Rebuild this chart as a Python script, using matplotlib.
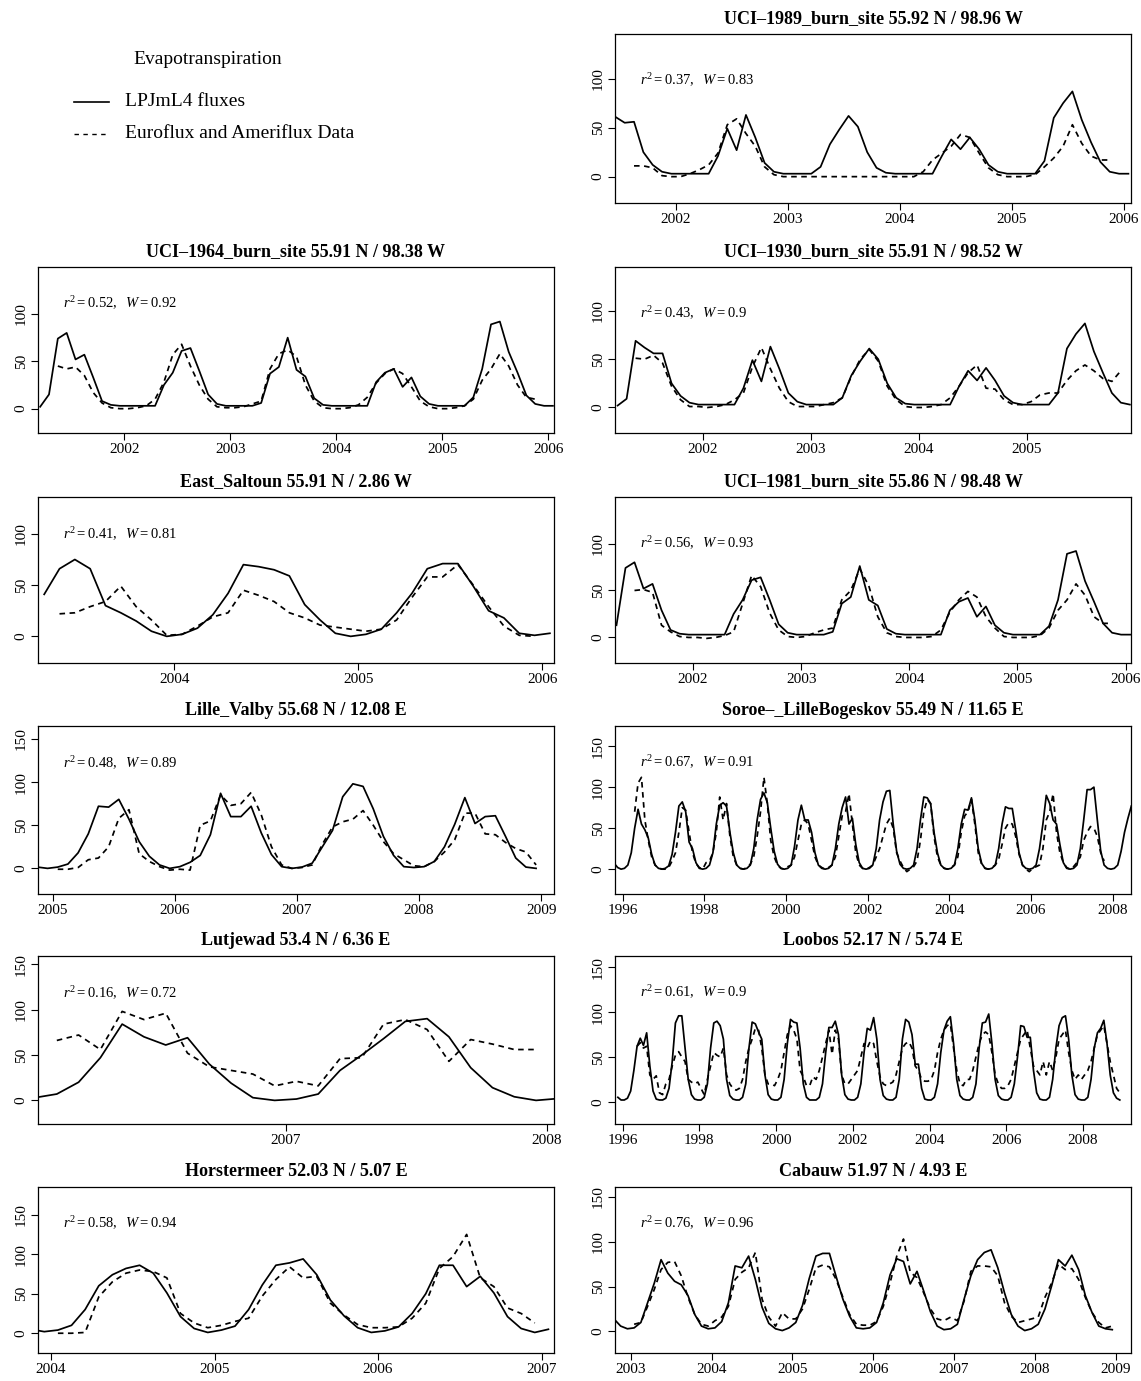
import numpy as np
import matplotlib
matplotlib.use("Agg")
import matplotlib.pyplot as plt

plt.rcParams['font.family'] = ['Liberation Serif', 'DejaVu Serif']
plt.rcParams['mathtext.fontset'] = 'custom'
plt.rcParams['mathtext.rm'] = 'Liberation Serif'
plt.rcParams['mathtext.it'] = 'Liberation Serif:italic'

# ------------------------------------------------------------------
# Monthly evapotranspiration: LPJmL4 model vs. flux tower observations
# Each series: (first year, first month) and monthly values
# ------------------------------------------------------------------
legend_title = "Evapotranspiration"
legend_model = "LPJmL4 fluxes"
legend_obs = "Euroflux and Ameriflux Data"

# UCI-1989 burn site
uci1989_title = "UCI\u20131989_burn_site 55.92 N / 98.96 W"
uci1989_stats = (0.37, 0.83)
uci1989_model_start = (2001, 6)
uci1989_model = [61, 55, 56, 25, 12, 5, 3,
                 3, 3, 3, 3, 21, 49, 27, 63, 40, 14, 5, 3,
                 3, 3, 3, 10, 33, 48, 62, 51, 25, 9, 4, 3,
                 3, 3, 3, 3, 21, 38, 28, 40, 28, 12, 5, 3,
                 3, 3, 3, 16, 60, 75, 87, 58, 35, 15, 5, 3,
                 3]
uci1989_obs_start = (2001, 8)
uci1989_obs = [11, 11, 9, 1, 0,
               0, 3, 7, 12, 24, 53, 59, 44, 31, 10, 2, 0,
               0, 0, 0, 0, 0, 0, 0, 0, 0, 0, 0, 0,
               0, 0, 5, 17, 24, 31, 43, 40, 24, 9, 2, 0,
               0, 0, 2, 10, 19, 31, 53, 34, 21, 17, 17]
uci1989_xticks = [2002, 2003, 2004, 2005, 2006]

# UCI-1964 burn site
uci1964_title = "UCI\u20131964_burn_site 55.91 N / 98.38 W"
uci1964_stats = (0.52, 0.92)
uci1964_model_start = (2001, 3)
uci1964_model = [2, 15, 74, 80, 52, 57, 33, 8, 4, 3,
                 3, 3, 3, 3, 25, 38, 61, 64, 40, 15, 5, 3,
                 3, 3, 3, 6, 37, 44, 75, 41, 34, 11, 4, 3,
                 3, 3, 3, 3, 28, 38, 42, 23, 33, 13, 5, 3,
                 3, 3, 3, 12, 42, 89, 92, 60, 38, 14, 5, 3,
                 3]
uci1964_obs_start = (2001, 5)
uci1964_obs = [45, 42, 44, 35, 17, 6, 1, 0,
               0, 1, 3, 10, 28, 57, 68, 45, 25, 10, 2, 1,
               1, 2, 5, 8, 42, 58, 62, 55, 25, 8, 1, 0,
               0, 1, 4, 12, 27, 37, 42, 37, 23, 8, 2, 0,
               0, 1, 3, 10, 30, 42, 58, 45, 25, 12, 10]
uci1964_xticks = [2002, 2003, 2004, 2005, 2006]

# UCI-1930 burn site
uci1930_title = "UCI\u20131930_burn_site 55.91 N / 98.52 W"
uci1930_stats = (0.43, 0.9)
uci1930_model_start = (2001, 3)
uci1930_model = [2, 9, 69, 62, 56, 56, 25, 12, 5, 3,
                 3, 3, 3, 3, 20, 49, 27, 63, 40, 15, 6, 3,
                 3, 3, 3, 10, 33, 48, 61, 50, 25, 10, 4, 3,
                 3, 3, 3, 3, 22, 38, 28, 41, 28, 12, 5, 3,
                 3, 3, 3, 15, 61, 76, 87, 58, 36, 15, 5, 3]
uci1930_obs_start = (2001, 5)
uci1930_obs = [51, 50, 54, 46, 22, 8, 1, 1,
               0, 1, 3, 8, 15, 42, 62, 40, 20, 6, 1, 1,
               1, 3, 5, 10, 32, 50, 60, 48, 22, 8, 1, 0,
               0, 1, 3, 10, 22, 36, 44, 20, 19, 8, 3, 3,
               6, 13, 15, 15, 28, 38, 44, 38, 30, 27, 38]
uci1930_xticks = [2002, 2003, 2004, 2005]

# East Saltoun
saltoun_title = "East_Saltoun 55.91 N / 2.86 W"
saltoun_stats = (0.41, 0.81)
saltoun_model_start = (2003, 4)
saltoun_model = [41, 66, 75, 66, 30, 23, 15, 5, 0,
                 2, 8, 21, 42, 70, 68, 65, 59, 31, 16, 3, 0,
                 2, 7, 23, 42, 66, 71, 71, 49, 25, 18, 3, 1,
                 3]
saltoun_obs_start = (2003, 5)
saltoun_obs = [22, 23, 29, 34, 49, 29, 16, 1,
               2, 10, 19, 23, 45, 40, 34, 23, 18, 11, 9, 7,
               5, 7, 16, 38, 58, 58, 70, 50, 29, 10, 1, 0]
saltoun_xticks = [2004, 2005, 2006]

# UCI-1981 burn site
uci1981_title = "UCI\u20131981_burn_site 55.86 N / 98.48 W"
uci1981_stats = (0.56, 0.93)
uci1981_model_start = (2001, 4)
uci1981_model = [13, 74, 80, 52, 57, 29, 8, 4, 3,
                 3, 3, 3, 3, 25, 40, 61, 64, 40, 14, 5, 3,
                 3, 3, 3, 6, 36, 43, 76, 40, 34, 9, 4, 3,
                 3, 3, 3, 3, 29, 38, 42, 22, 33, 13, 5, 3,
                 3, 3, 3, 12, 40, 89, 92, 60, 38, 15, 5, 3,
                 3]
uci1981_obs_start = (2001, 6)
uci1981_obs = [50, 51, 48, 13, 6, 1, 0,
               0, -1, 0, 2, 6, 36, 66, 54, 26, 8, 1, 0,
               1, 5, 8, 10, 40, 50, 73, 55, 22, 5, 1, 0,
               0, 0, 1, 8, 27, 40, 49, 43, 22, 10, 1, 0,
               0, 0, 2, 10, 29, 40, 57, 45, 22, 15, 15]
uci1981_xticks = [2002, 2003, 2004, 2005, 2006]

# Lille Valby
valby_title = "Lille_Valby 55.68 N / 12.08 E"
valby_stats = (0.48, 0.89)
valby_model_start = (2004, 11)
valby_model = [1.5, 0,
               1.5, 5, 18, 40, 72, 71, 80, 57, 31, 14, 4, 0,
               2, 7, 15, 39, 87, 60, 60, 72, 41, 16, 2, 0,
               1.5, 6, 25, 44, 83, 98, 95, 69, 37, 15, 2, 1,
               2, 8, 25, 51, 82, 52, 60, 61, 37, 12, 1.5, 0]
valby_obs_start = (2005, 1)
valby_obs = [-1, -1, 1, 10, 12, 25, 58, 68, 17, 8, 2, -2,
             -1, -2, 50, 55, 85, 73, 75, 88, 62, 25, 4, 0,
             1, 4, 28, 48, 54, 57, 67, 50, 31, 17, 10, 3,
             2, 8, 19, 33, 64, 64, 40, 39, 30, 23, 19, 4]
valby_xticks = [2005, 2006, 2007, 2008, 2009]

# Soroe - Lille Bogeskov
soroe_title = "Soroe\u2013_LilleBogeskov 55.49 N / 11.65 E"
soroe_stats = (0.67, 0.91)
soroe_model_start = (1995, 10)
soroe_model = [7, 2, 0,
               1, 5, 20, 50, 73, 55, 48, 38, 18, 5, 1, 0,
               1, 4, 18, 45, 77, 82, 70, 33, 25, 8, 1, 0,
               1, 5, 20, 55, 78, 81, 77, 45, 20, 5, 1, 0,
               1, 5, 25, 60, 85, 93, 81, 50, 22, 6, 1, 0,
               1, 5, 28, 60, 78, 60, 60, 45, 20, 5, 1, 0,
               1, 5, 25, 55, 75, 88, 55, 62, 30, 8, 1, 0,
               1, 5, 25, 60, 82, 95, 96, 55, 22, 6, 1, 0,
               1, 5, 25, 60, 88, 87, 80, 45, 20, 5, 1, 0,
               1, 5, 25, 55, 73, 72, 87, 60, 25, 7, 1, 0,
               1, 5, 25, 55, 76, 74, 74, 48, 20, 5, 1, 0,
               1, 5, 25, 55, 90, 80, 60, 55, 30, 8, 1, 0,
               1, 5, 25, 60, 97, 97, 100, 60, 22, 5, 1, 0,
               1, 5, 22, 45, 62, 77]
soroe_obs_start = (1996, 4)
soroe_obs = [70, 105, 112, 60, 35, 15, 5, 2, 0,
             0, 2, 10, 20, 45, 75, 72, 45, 20, 7, 2, 0,
             8, 10, 20, 45, 88, 60, 80, 40, 15, 5, 1, 0,
             2, 6, 15, 40, 70, 112, 80, 35, 15, 5, 1, 0,
             3, 5, 15, 35, 55, 60, 55, 35, 15, 5, 2, 0,
             2, 5, 15, 40, 65, 70, 92, 55, 20, 5, 1, 0,
             2, 5, 15, 25, 40, 55, 62, 50, 20, 10, 2, -3,
             0, 3, 10, 35, 70, 85, 80, 40, 15, 5, 1, 0,
             2, 5, 15, 45, 65, 70, 85, 55, 20, 6, 1, 0,
             2, 5, 12, 30, 50, 57, 55, 40, 18, 5, 0, -3,
             1, 3, 5, 25, 60, 70, 92, 45, 20, 8, 2, 0,
             3, 8, 15, 35, 45, 52, 50, 40, 20, 10]
soroe_xticks = [1996, 1998, 2000, 2002, 2004, 2006, 2008]

# Lutjewad
lutjewad_title = "Lutjewad 53.4 N / 6.36 E"
lutjewad_stats = (0.16, 0.72)
lutjewad_model_start = (2006, 1)
lutjewad_model = [3, 7, 20, 47, 84, 70, 61, 69, 40, 19, 3, 0,
                  1.5, 7, 33, 50, 68, 87, 90, 70, 36, 14, 4, 0,
                  2]
lutjewad_obs_start = (2006, 2)
lutjewad_obs = [66, 72, 56, 98, 89, 96, 52, 37, 33, 29, 16,
                21, 16, 46, 47, 84, 89, 78, 43, 67, 62, 56, 56]
lutjewad_xticks = [2007, 2008]

# Loobos
loobos_title = "Loobos 52.17 N / 5.74 E"
loobos_stats = (0.61, 0.9)
loobos_model_start = (1995, 11)
loobos_model = [5, 2,
                2, 4, 12, 35, 62, 71, 63, 77, 40, 12, 3, 2,
                2, 4, 15, 45, 88, 96, 96, 60, 25, 8, 3, 2,
                2, 5, 20, 60, 88, 90, 85, 70, 25, 7, 3, 2,
                2, 5, 20, 60, 89, 87, 78, 70, 30, 8, 3, 2,
                2, 5, 25, 65, 92, 89, 88, 60, 20, 5, 2, 2,
                2, 5, 20, 55, 83, 83, 90, 75, 30, 8, 3, 2,
                2, 5, 20, 55, 82, 80, 94, 70, 25, 7, 3, 2,
                2, 5, 25, 70, 92, 89, 75, 42, 42, 15, 3, 2,
                2, 5, 20, 55, 80, 90, 95, 65, 25, 7, 3, 2,
                2, 5, 20, 60, 88, 89, 98, 65, 25, 7, 3, 2,
                2, 5, 20, 50, 85, 84, 72, 72, 35, 10, 3, 2,
                2, 5, 25, 60, 85, 94, 96, 70, 30, 8, 3, 2,
                2, 5, 25, 60, 77, 82, 91, 65, 30, 10, 4, 2]
loobos_obs_start = (1996, 5)
loobos_obs = [62, 66, 60, 62, 30, 25, 29, 10,
              8, 20, 25, 40, 52, 56, 50, 45, 25, 22, 20, 22,
              15, 8, 25, 40, 55, 52, 50, 60, 30, 20, 15, 13,
              15, 25, 45, 60, 70, 82, 80, 60, 30, 20, 20, 18,
              25, 35, 55, 75, 85, 80, 70, 35, 28, 18, 18, 28,
              25, 35, 50, 65, 80, 53, 80, 70, 30, 20, 20, 25,
              30, 35, 50, 65, 60, 68, 65, 45, 28, 20, 18, 20,
              22, 30, 45, 60, 65, 67, 60, 40, 35, 25, 23, 23,
              25, 35, 55, 70, 80, 85, 87, 60, 35, 20, 18, 25,
              25, 35, 50, 65, 75, 78, 75, 55, 30, 20, 15, 15,
              18, 25, 40, 55, 70, 75, 80, 60, 40, 35, 30, 45,
              30, 45, 35, 50, 70, 75, 80, 55, 35, 25, 30, 25,
              30, 35, 45, 60, 75, 80, 85, 65, 45, 30, 15, 10]
loobos_xticks = [1996, 1998, 2000, 2002, 2004, 2006, 2008]

# Horstermeer
horst_title = "Horstermeer 52.03 N / 5.07 E"
horst_stats = (0.58, 0.94)
horst_model_start = (2003, 11)
horst_model = [5, 2,
               4, 10, 30, 60, 74, 82, 86, 76, 51, 21, 6, 1,
               4, 9, 30, 61, 86, 89, 94, 74, 42, 22, 7, 1,
               3, 8, 25, 50, 86, 86, 59, 72, 51, 21, 6, 1,
               5]
horst_obs_start = (2004, 1)
horst_obs = [0, 0, 1, 46, 65, 76, 80, 78, 70, 25, 13, 7,
             10, 15, 19, 47, 68, 84, 70, 72, 38, 23, 11, 7,
             7, 8, 19, 38, 82, 97, 125, 70, 59, 32, 25, 13]
horst_xticks = [2004, 2005, 2006, 2007]

# Cabauw
cabauw_title = "Cabauw 51.97 N / 4.93 E"
cabauw_stats = (0.76, 0.96)
cabauw_model_start = (2002, 10)
cabauw_model = [14, 6, 3,
                4, 10, 32, 54, 80, 65, 56, 52, 40, 19, 6, 3,
                4, 11, 32, 73, 71, 84, 58, 27, 9, 3, 1, 4,
                10, 29, 59, 84, 87, 87, 61, 36, 17, 4, 3, 4,
                10, 32, 63, 81, 78, 53, 67, 45, 22, 6, 2, 3,
                8, 36, 62, 80, 88, 91, 71, 43, 19, 6, 1, 3,
                8, 25, 51, 80, 73, 85, 69, 40, 21, 6, 3, 2]
cabauw_obs_start = (2003, 1)
cabauw_obs = [8, 10, 28, 47, 69, 77, 78, 62, 38, 19, 8, 6,
              12, 16, 28, 58, 66, 71, 88, 36, 16, 6, 21, 14,
              14, 25, 47, 71, 74, 72, 58, 38, 19, 8, 7, 7,
              11, 28, 54, 84, 103, 66, 60, 43, 25, 14, 12, 16,
              12, 34, 67, 73, 73, 72, 62, 32, 17, 10, 12, 14,
              16, 38, 54, 75, 69, 70, 58, 38, 21, 10, 4, 6]
cabauw_xticks = [2003, 2004, 2005, 2006, 2007, 2008, 2009]

TICKS_LOW = [0, 50, 100]
TICKS_HIGH = [0, 50, 100, 150]

sites = [
    (uci1989_title, uci1989_stats, uci1989_model_start, uci1989_model,
     uci1989_obs_start, uci1989_obs, uci1989_xticks, TICKS_LOW),
    (uci1964_title, uci1964_stats, uci1964_model_start, uci1964_model,
     uci1964_obs_start, uci1964_obs, uci1964_xticks, TICKS_LOW),
    (uci1930_title, uci1930_stats, uci1930_model_start, uci1930_model,
     uci1930_obs_start, uci1930_obs, uci1930_xticks, TICKS_LOW),
    (saltoun_title, saltoun_stats, saltoun_model_start, saltoun_model,
     saltoun_obs_start, saltoun_obs, saltoun_xticks, TICKS_LOW),
    (uci1981_title, uci1981_stats, uci1981_model_start, uci1981_model,
     uci1981_obs_start, uci1981_obs, uci1981_xticks, TICKS_LOW),
    (valby_title, valby_stats, valby_model_start, valby_model,
     valby_obs_start, valby_obs, valby_xticks, TICKS_HIGH),
    (soroe_title, soroe_stats, soroe_model_start, soroe_model,
     soroe_obs_start, soroe_obs, soroe_xticks, TICKS_HIGH),
    (lutjewad_title, lutjewad_stats, lutjewad_model_start, lutjewad_model,
     lutjewad_obs_start, lutjewad_obs, lutjewad_xticks, TICKS_HIGH),
    (loobos_title, loobos_stats, loobos_model_start, loobos_model,
     loobos_obs_start, loobos_obs, loobos_xticks, TICKS_HIGH),
    (horst_title, horst_stats, horst_model_start, horst_model,
     horst_obs_start, horst_obs, horst_xticks, TICKS_HIGH),
    (cabauw_title, cabauw_stats, cabauw_model_start, cabauw_model,
     cabauw_obs_start, cabauw_obs, cabauw_xticks, TICKS_HIGH),
]

# ------------------------------------------------------------------
# Layout (pixels): panel box, axis limits, height of the statistics label
# ------------------------------------------------------------------
W_PX, H_PX = 1141, 1381
COL_X = [38, 615]
PANEL_W = 516
ROW_Y = [(34, 203), (267, 433), (497, 663), (726, 894), (956, 1124), (1187, 1353)]
grid = [(0, 1), (1, 0), (1, 1), (2, 0), (2, 1), (3, 0), (3, 1),
        (4, 0), (4, 1), (5, 0), (5, 1)]
xlims = [(2001.455, 2006.065), (2001.188, 2006.052), (2001.184, 2005.969),
         (2003.258, 2006.064), (2001.278, 2006.05), (2004.88, 2009.105),
         (1995.81, 2008.45), (2006.053, 2008.027), (1995.80, 2009.25),
         (2003.92, 2007.076), (2002.805, 2009.19)]
ylims = [(-26.9, 145.6), (-25.7, 149.6), (-26.4, 145.4), (-26, 136),
         (-27.2, 149.5), (-29.7, 165), (-30.3, 174.6), (-26, 159),
         (-24.8, 162.8), (-25, 185), (-24, 161)]
stat_y = [0.724, 0.783, 0.724, 0.776, 0.724, 0.778, 0.784, 0.778, 0.784, 0.784, 0.78]


def month_times(start, n):
    year, month = start
    return year + (month - 0.5 + np.arange(n)) / 12.0


fig = plt.figure(figsize=(W_PX / 100, H_PX / 100), dpi=100)

for i, (title, stats, m_start, model, o_start, obs, xt, yt) in enumerate(sites):
    row, col = grid[i]
    top, bottom = ROW_Y[row]
    left = COL_X[col]
    ax = fig.add_axes([left / W_PX, 1 - bottom / H_PX,
                       PANEL_W / W_PX, (bottom - top) / H_PX])
    ax.plot(month_times(m_start, len(model)), model, color='black',
            lw=1.25, solid_joinstyle='round')
    ax.plot(month_times(o_start, len(obs)), obs, color='black',
            lw=1.25, linestyle=(0, (3.2, 2.6)))
    ax.set_xlim(*xlims[i])
    ax.set_ylim(*ylims[i])
    ax.set_xticks(xt)
    ax.set_xticklabels([str(v) for v in xt])
    ax.set_yticks(yt)
    ax.set_yticklabels([str(v) for v in yt])
    ax.tick_params(axis='both', direction='out', length=5, width=0.8,
                   labelsize=11, pad=2.5)
    ax.tick_params(axis='y', labelrotation=90)
    plt.setp(ax.get_yticklabels(), va='center')
    for sp in ax.spines.values():
        sp.set_linewidth(0.9)
    ax.set_title(title, fontsize=13, fontweight='bold', pad=8)
    r2, w = stats
    ax.text(0.048, stat_y[i], r"$r^2 = %s,\ \ W = %s$" % (r2, w),
            transform=ax.transAxes, fontsize=10.5, ha='left', va='center')

# Legend in the empty top-left cell
fig.text(208 / W_PX, 1 - 59 / H_PX, legend_title, fontsize=14,
         ha='center', va='center')
fig.add_artist(plt.Line2D([74 / W_PX, 109 / W_PX], [1 - 102 / H_PX] * 2,
                          color='black', lw=1.2, transform=fig.transFigure))
fig.text(125 / W_PX, 1 - 102 / H_PX, legend_model, fontsize=14,
         ha='left', va='center')
fig.add_artist(plt.Line2D([74 / W_PX, 109 / W_PX], [1 - 134 / H_PX] * 2,
                          color='black', lw=1.0, linestyle=(0, (3.2, 3.2)),
                          transform=fig.transFigure))
fig.text(125 / W_PX, 1 - 134 / H_PX, legend_obs, fontsize=14,
         ha='left', va='center')

fig.savefig("out.png", dpi=100)
